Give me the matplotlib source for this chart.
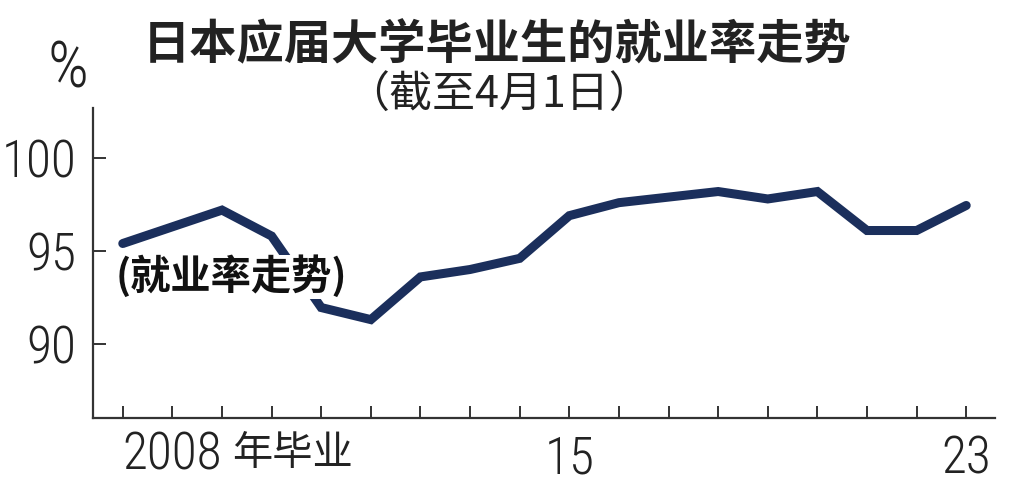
import matplotlib
matplotlib.use("Agg")
import matplotlib.pyplot as plt
from matplotlib import font_manager as fm
import matplotlib.transforms as mt

years = list(range(2006, 2024))
rates = [95.4, 96.3, 97.2, 95.8, 91.95, 91.3, 93.6, 94.0, 94.6, 96.9,
         97.6, 97.9, 98.2, 97.8, 98.2, 96.1, 96.1, 97.45]
ytick_vals = [90, 95, 100]
xlabel_years = [2015, 2023]
xlabel_texts = ["15", "23"]

title = "日本应届大学毕业生的就业率走势"
subtitle = "（截至4月1日）"
note = "(就业率走势)"

CJK = ["Noto Sans CJK SC", "DejaVu Sans"]
LINE_C = "#1b2f5c"
TXT_C = "#222222"


def pick_narrow():
    fonts = fm.fontManager.ttflist
    prefs = [("roboto", "condensed", "light"), ("roboto", "condensed", "regular"),
             ("liberation", "narrow", "regular"), ("dejavu", "condensed", "sans")]
    for fam, key, sub in prefs:
        for f in fonts:
            p = f.fname.lower()
            if fam in p and key in p and sub in p and "italic" not in p \
                    and "bold" not in p and "mono" not in p and "serif" not in p:
                return fm.FontProperties(fname=f.fname)
    for f in fonts:
        p = f.fname.lower()
        if ("condensed" in p or "narrow" in p) and "bold" not in p and "italic" not in p:
            return fm.FontProperties(fname=f.fname)
    return fm.FontProperties(family="DejaVu Sans")


NUMFP = pick_narrow()


def numfp(size):
    fp = NUMFP.copy()
    fp.set_size(size)
    return fp


fig = plt.figure(figsize=(10.24, 4.95), dpi=100)
ax = fig.add_axes([93 / 1024, 1 - 418 / 495, (995 - 93) / 1024, (418 - 108) / 495])

ax.plot(years, rates, color=LINE_C, lw=6.5, solid_joinstyle="miter",
        solid_capstyle="round", zorder=2)

ax.set_xlim(2005.4, 2023.58)
ax.set_ylim(86.0, 102.7)

for s in ["top", "right"]:
    ax.spines[s].set_visible(False)
for s in ["left", "bottom"]:
    ax.spines[s].set_linewidth(1.6)
    ax.spines[s].set_color("#333333")

ax.set_xticks(years)
ax.set_xticklabels(["" if y not in xlabel_years else xlabel_texts[xlabel_years.index(y)]
                    for y in years])
ax.set_yticks(ytick_vals)
ax.set_yticklabels([str(v) for v in ytick_vals])
ax.tick_params(axis="both", direction="in", length=9, width=1.4, color="#333333",
               labelcolor=TXT_C)
ax.tick_params(axis="x", pad=12)
ax.tick_params(axis="y", pad=12)
for lab in ax.get_xticklabels() + ax.get_yticklabels():
    lab.set_fontproperties(numfp(37))

tr = mt.blended_transform_factory(ax.transData, fig.transFigure)
ax.text(2008, 1 - 456 / 495, "2008", transform=tr, ha="right", va="center",
        fontproperties=numfp(37), color=TXT_C)
ax.text(2008.2, 1 - 454 / 495, "年毕业", transform=tr, ha="left", va="center",
        fontsize=29, family=CJK, color=TXT_C)

ax.text(2005.85, 93.6, note, ha="left", va="center", fontsize=29,
        family=CJK, fontweight="bold", color="#111111", zorder=3,
        bbox=dict(facecolor="white", edgecolor="none", pad=0.5))

fig.text(497 / 1024, 1 - 45 / 495, title, ha="center", va="center",
         fontsize=34, family=CJK, fontweight="bold", color=TXT_C)
fig.text(499 / 1024, 1 - 96 / 495, subtitle, ha="center", va="center",
         fontsize=31, family=CJK, color=TXT_C)
fig.text(68 / 1024, 1 - 70 / 495, "%", ha="center", va="center",
         fontproperties=numfp(46), color=TXT_C)

fig.savefig("out.png", dpi=100, facecolor="white")
